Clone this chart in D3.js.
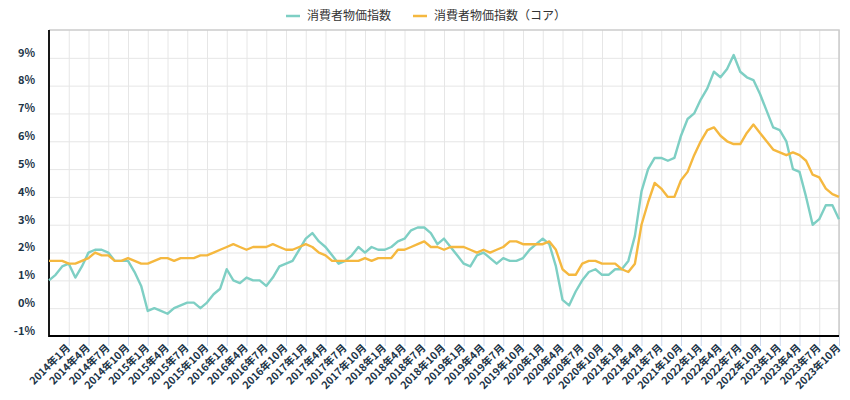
<!DOCTYPE html>
<html>
<head>
<meta charset="utf-8">
<script src="https://cdn.jsdelivr.net/npm/d3@7"></script>
<style>
  body { margin: 0; background: #fff; }
  #chart { width: 850px; height: 400px; }
  text { font-family: "Noto Sans CJK JP", "Noto Sans", sans-serif; }
</style>
</head>
<body>
<div id="chart"></div>
<script>
// 系列名
const seriesNames = ['消費者物価指数', '消費者物価指数（コア）'];
const seriesColors = ['#7ecfc4', '#f5b83f'];

// 前年同月比 (%)  2013年10月〜2023年10月
const cpi = [
  1.0, 1.2, 1.5,
  1.6, 1.1, 1.5, 2.0, 2.1, 2.1, 2.0, 1.7, 1.7, 1.7, 1.3, 0.8,
  -0.1, 0.0, -0.1, -0.2, 0.0, 0.1, 0.2, 0.2, 0.0, 0.2, 0.5, 0.7,
  1.4, 1.0, 0.9, 1.1, 1.0, 1.0, 0.8, 1.1, 1.5, 1.6, 1.7, 2.1,
  2.5, 2.7, 2.4, 2.2, 1.9, 1.6, 1.7, 1.9, 2.2, 2.0, 2.2, 2.1,
  2.1, 2.2, 2.4, 2.5, 2.8, 2.9, 2.9, 2.7, 2.3, 2.5, 2.2, 1.9,
  1.6, 1.5, 1.9, 2.0, 1.8, 1.6, 1.8, 1.7, 1.7, 1.8, 2.1, 2.3,
  2.5, 2.3, 1.5, 0.3, 0.1, 0.6, 1.0, 1.3, 1.4, 1.2, 1.2, 1.4,
  1.4, 1.7, 2.6, 4.2, 5.0, 5.4, 5.4, 5.3, 5.4, 6.2, 6.8, 7.0,
  7.5, 7.9, 8.5, 8.3, 8.6, 9.1, 8.5, 8.3, 8.2, 7.7, 7.1, 6.5,
  6.4, 6.0, 5.0, 4.9, 4.0, 3.0, 3.2, 3.7, 3.7, 3.2
];
const coreCpi = [
  1.7, 1.7, 1.7,
  1.6, 1.6, 1.7, 1.8, 2.0, 1.9, 1.9, 1.7, 1.7, 1.8, 1.7, 1.6,
  1.6, 1.7, 1.8, 1.8, 1.7, 1.8, 1.8, 1.8, 1.9, 1.9, 2.0, 2.1,
  2.2, 2.3, 2.2, 2.1, 2.2, 2.2, 2.2, 2.3, 2.2, 2.1, 2.1, 2.2,
  2.3, 2.2, 2.0, 1.9, 1.7, 1.7, 1.7, 1.7, 1.7, 1.8, 1.7, 1.8,
  1.8, 1.8, 2.1, 2.1, 2.2, 2.3, 2.4, 2.2, 2.2, 2.1, 2.2, 2.2,
  2.2, 2.1, 2.0, 2.1, 2.0, 2.1, 2.2, 2.4, 2.4, 2.3, 2.3, 2.3,
  2.3, 2.4, 2.1, 1.4, 1.2, 1.2, 1.6, 1.7, 1.7, 1.6, 1.6, 1.6,
  1.4, 1.3, 1.6, 3.0, 3.8, 4.5, 4.3, 4.0, 4.0, 4.6, 4.9, 5.5,
  6.0, 6.4, 6.5, 6.2, 6.0, 5.9, 5.9, 6.3, 6.6, 6.3, 6.0, 5.7,
  5.6, 5.5, 5.6, 5.5, 5.3, 4.8, 4.7, 4.3, 4.1, 4.0
];

// カテゴリ (年月ラベル)
const months = d3.timeMonths(new Date(2013, 9, 1), new Date(2023, 10, 1));
const categories = months.map(d => d.getFullYear() + '年' + (d.getMonth() + 1) + '月');
// 目盛ラベル: 3か月ごと (2014年1月から)
const xTickLabels = categories.filter((d, i) => i > 0 && i % 3 === 0);
const yTicks = [-1, 0, 1, 2, 3, 4, 5, 6, 7, 8, 9];

const width = 850, height = 400;
const margin = { top: 30, right: 11, bottom: 64, left: 49 };
const x0 = margin.left, x1 = width - margin.right;
const y0 = height - margin.bottom, y1 = margin.top;

const svg = d3.select('#chart')
  .append('svg')
  .attr('width', width)
  .attr('height', height);

const x = d3.scalePoint().domain(categories).range([x0, x1]);
const y = d3.scaleLinear().domain([-1, 10]).range([y0, y1]);

// グリッド
svg.append('g')
  .attr('transform', 'translate(0,' + y0 + ')')
  .call(d3.axisBottom(x).tickValues(xTickLabels).tickSize(-(y0 - y1)).tickFormat(''))
  .call(g => g.select('.domain').remove())
  .call(g => g.selectAll('line').attr('stroke', '#e6e6e6'));
svg.append('g')
  .attr('transform', 'translate(' + x0 + ',0)')
  .call(d3.axisLeft(y).tickValues(yTicks).tickSize(-(x1 - x0)).tickFormat(''))
  .call(g => g.select('.domain').remove())
  .call(g => g.selectAll('line').attr('stroke', '#e6e6e6'));

// 枠線 (上・右)
svg.append('path')
  .attr('d', 'M' + x0 + ',' + y1 + 'H' + x1 + 'V' + y0)
  .attr('fill', 'none')
  .attr('stroke', '#cccccc')
  .attr('stroke-width', 1.5);

// X軸
const xAxis = svg.append('g')
  .attr('transform', 'translate(0,' + y0 + ')')
  .call(d3.axisBottom(x).tickValues(xTickLabels).tickSize(10).tickPadding(4));
xAxis.select('.domain').remove();
xAxis.selectAll('line').attr('stroke', '#ccd6eb');
xAxis.selectAll('text')
  .attr('font-size', 10.5)
  .attr('font-weight', 'bold')
  .attr('fill', '#1d3548')
  .attr('text-anchor', 'end')
  .attr('dy', '0.35em')
  .attr('transform', 'translate(-1,10) rotate(-45)')
  .attr('y', 0)
  .attr('x', 0);

// Y軸ラベル
const yAxis = svg.append('g')
  .attr('transform', 'translate(' + x0 + ',0)')
  .call(d3.axisLeft(y).tickValues(yTicks).tickSize(0).tickPadding(14).tickFormat(d => d + '%'));
yAxis.select('.domain').remove();
yAxis.selectAll('text')
  .attr('font-size', 11)
  .attr('font-weight', 'bold')
  .attr('fill', '#1d3548')
  .attr('dy', '-0.15em');

// 軸線
svg.append('path')
  .attr('d', 'M' + x0 + ',' + y1 + 'V' + y0 + 'H' + x1)
  .attr('fill', 'none')
  .attr('stroke', '#000')
  .attr('stroke-width', 1.8);

// 折れ線
const line = d3.line()
  .x((d, i) => x(categories[i]))
  .y(d => y(d));
[cpi, coreCpi].forEach((values, k) => {
  svg.append('path')
    .datum(values)
    .attr('fill', 'none')
    .attr('stroke', seriesColors[k])
    .attr('stroke-width', 2.4)
    .attr('stroke-linejoin', 'round')
    .attr('d', line);
});

// 凡例
const legend = svg.append('g');
let cursor = 0;
seriesNames.forEach((name, k) => {
  const item = legend.append('g').attr('transform', 'translate(' + cursor + ',0)');
  item.append('line')
    .attr('x1', 0).attr('x2', 14)
    .attr('y1', 0).attr('y2', 0)
    .attr('stroke', seriesColors[k])
    .attr('stroke-width', 2.5);
  const t = item.append('text')
    .attr('x', 21)
    .attr('dy', '0.35em')
    .attr('font-size', 12)
    .attr('fill', '#333')
    .text(name);
  cursor += 21 + t.node().getComputedTextLength() + 22;
});
const legendWidth = cursor - 22;
legend.attr('transform', 'translate(' + (426 - legendWidth / 2) + ',16)');
</script>
</body>
</html>
